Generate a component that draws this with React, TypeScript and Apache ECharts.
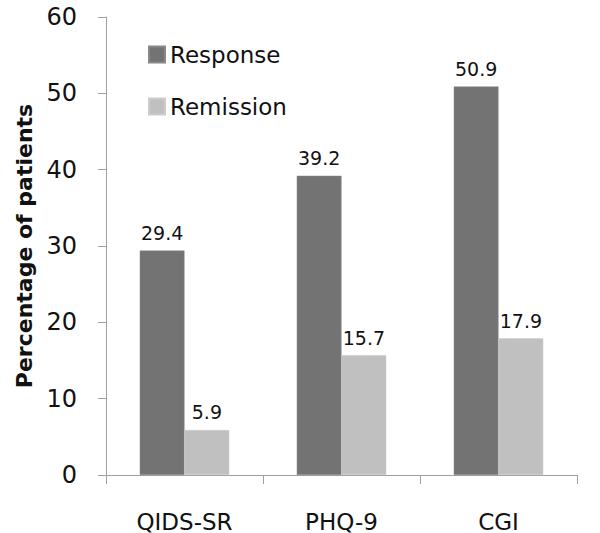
import React, { useEffect, useRef } from "react";
import * as echarts from "echarts";

const categories = ["QIDS-SR", "PHQ-9", "CGI"];
const responseValues = [29.4, 39.2, 50.9];
const remissionValues = [5.9, 15.7, 17.9];
const yTicks = { min: 0, max: 60, interval: 10 };

const FONT = "'DejaVu Sans', 'Open Sans', sans-serif";

export default function App() {
  const ref = useRef<HTMLDivElement>(null);
  useEffect(() => {
    if (!ref.current) return;
    const chart = echarts.init(ref.current, null, { renderer: "svg" });
    const labelCfg = {
      show: true,
      position: "top",
      distance: 8,
      fontSize: 19,
      color: "#111",
      fontFamily: FONT,
      formatter: (p: any) => p.value.toFixed(1),
    };
    chart.setOption({
      animation: false,
      backgroundColor: "#fff",
      textStyle: { fontFamily: FONT },
      grid: { left: 106, right: 23, top: 17, bottom: 58 },
      legend: {
        orient: "vertical",
        left: 143,
        top: 37,
        itemWidth: 16,
        itemHeight: 16,
        itemGap: 27,
        icon: "rect",
        textStyle: { fontSize: 23, color: "#111", fontFamily: FONT, lineHeight: 25 },
        data: ["Response", "Remission"],
      },
      xAxis: {
        type: "category",
        data: categories,
        axisLine: { lineStyle: { color: "#a0a0a0", width: 1 } },
        axisTick: { show: true, length: 9, lineStyle: { color: "#a0a0a0" } },
        axisLabel: { fontSize: 23, color: "#111", margin: 35, fontFamily: FONT },
      },
      yAxis: {
        type: "value",
        min: yTicks.min,
        max: yTicks.max,
        interval: yTicks.interval,
        name: "Percentage of patients",
        nameLocation: "middle",
        nameGap: 70,
        nameTextStyle: { fontSize: 22, fontWeight: "bold", color: "#111", fontFamily: FONT },
        axisLine: { show: true, lineStyle: { color: "#a0a0a0", width: 1 } },
        axisTick: { show: true, length: 8, lineStyle: { color: "#a0a0a0" } },
        axisLabel: { fontSize: 24, color: "#111", margin: 29, fontFamily: FONT },
        splitLine: { show: false },
      },
      series: [
        {
          name: "Response",
          type: "bar",
          data: responseValues,
          barGap: "0%",
          barCategoryGap: "43%",
          itemStyle: { color: "#737373", borderColor: "#888", borderWidth: 0.5 },
          label: labelCfg,
        },
        {
          name: "Remission",
          type: "bar",
          data: remissionValues,
          itemStyle: { color: "#c0c0c0", borderColor: "#ccc", borderWidth: 0.5 },
          label: labelCfg,
        },
      ],
    });
    return () => chart.dispose();
  }, []);
  return <div ref={ref} style={{ width: 600, height: 533, position: "absolute", left: 0, top: 0 }} />;
}
